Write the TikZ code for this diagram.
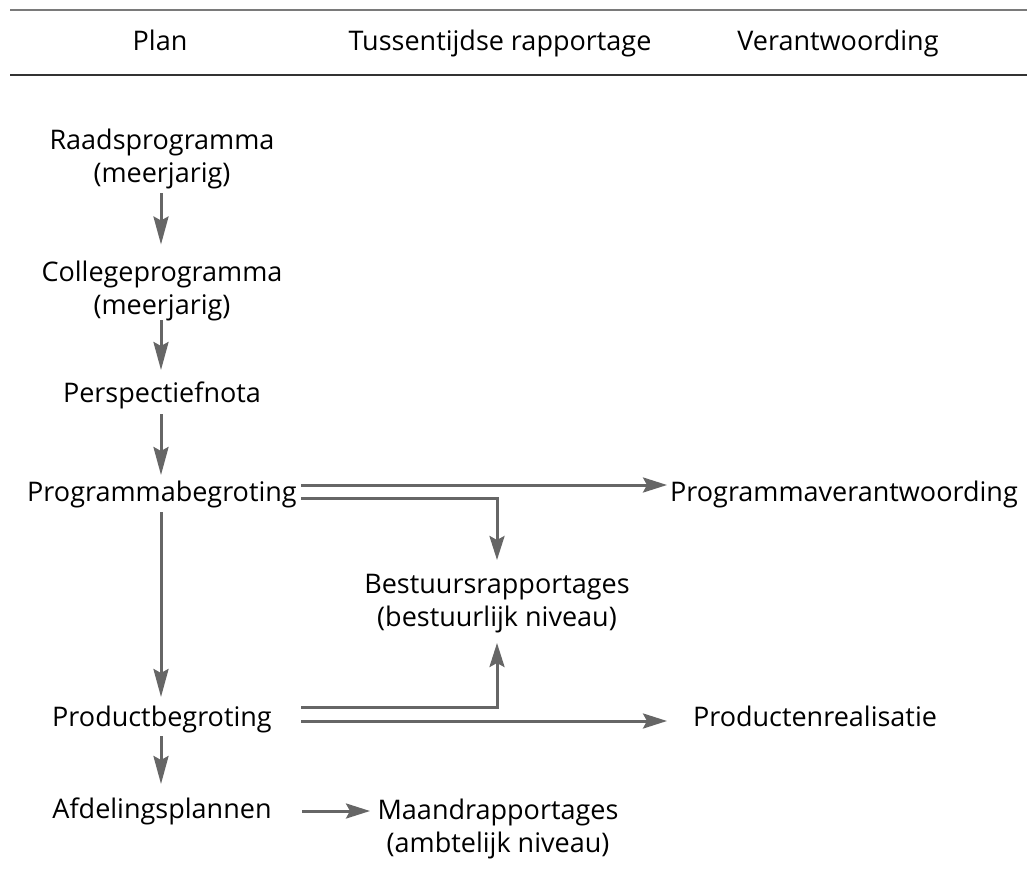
\documentclass[tikz,border=0pt]{standalone}
\usepackage{fontspec}
\setmainfont{Open Sans}[Ligatures={NoCommon}]
\usetikzlibrary{arrows.meta,calc}
\definecolor{arrgray}{HTML}{666666}
\definecolor{rulelight}{HTML}{7A7A7A}
\definecolor{ruledark}{HTML}{333333}
\newlength\refw
\begin{document}
\settowidth\refw{\normalfont\fontsize{10pt}{12pt}\selectfont Raadsprogramma}%
\pgfmathsetmacro\fs{10*225/\refw}%
\begin{tikzpicture}[x=1pt,y=-1pt]
\tikzset{
  txt/.style={font=\fontsize{\fs pt}{33pt}\selectfont, align=center, inner sep=0pt},
  one/.style={txt, text height=17pt, text depth=4pt},
  arr/.style={draw=arrgray, line width=3pt, -{Stealth[length=24pt,width=15pt,inset=4pt]}},
  varr/.style={draw=arrgray, line width=3pt, -{Stealth[length=28pt,width=15pt,inset=4pt]}},
  rulea/.style={draw=rulelight, line width=2pt},
  ruleb/.style={draw=ruledark, line width=2pt}
}
\useasboundingbox (0,0) rectangle (1027,885);
\fill[white] (0,0) rectangle (1027,885);
% rules
\coordinate (r1a) at (10,10);
\coordinate (r1b) at (1027,10);
\coordinate (r2a) at (10,75);
\coordinate (r2b) at (1027,75);
\draw[rulea] (r1a) -- (r1b);
\draw[ruleb] (r2a) -- (r2b);
% header
\node[one] (hplan) at (160,44) {Plan};
\node[one] (htus) at (500,44) {Tussentijdse rapportage};
\node[one] (hver) at (838,44) {Verantwoording};
% column 1
\node[txt] (raad) at (162,159) {Raadsprogramma\\(meerjarig)};
\node[txt] (coll) at (162,291) {Collegeprogramma\\(meerjarig)};
\node[one] (persp) at (162,396) {Perspectiefnota};
\node[one] (progbeg) at (162,495) {Programmabegroting};
\node[one] (prodbeg) at (162,720) {Productbegroting};
\node[one] (afdel) at (162,812) {Afdelingsplannen};
% column 2
\node[txt] (best) at (497,604) {Bestuursrapportages\\(bestuurlijk niveau)};
\node[txt] (maand) at (498,829) {Maandrapportages\\(ambtelijk niveau)};
% column 3
\node[one] (progver) at (844,495) {Programmaverantwoording};
\node[one] (prodreal) at (815,720) {Productenrealisatie};
% vertical arrows
\draw[varr] ($(raad.center)+(-1,34.5)$) -- ($(coll.center)+(-1,-46.5)$);
\draw[varr] ($(coll.center)+(-1,29)$) -- ($(persp.center)+(-1,-26)$);
\draw[varr] ($(persp.center)+(-1,18)$) -- ($(progbeg.center)+(-1,-20)$);
\draw[varr] ($(progbeg.center)+(-1,17)$) -- ($(prodbeg.center)+(-1,-23)$);
\draw[varr] ($(prodbeg.center)+(-1,16)$) -- ($(afdel.center)+(-1,-28)$);
% horizontal arrows
\draw[arr] ($(progbeg.center)+(139,-10)$) -- ($(progver.center)+(-177,-10)$);
\draw[arr] ($(progbeg.center)+(139,3)$) -| ($(best.center)+(0,-44)$);
\draw[arr] ($(prodbeg.center)+(139,-13)$) -| ($(best.center)+(0,39)$);
\draw[arr] ($(prodbeg.center)+(139,1)$) -- ($(prodreal.center)+(-148,1)$);
\draw[arr] ($(afdel.center)+(140,-1)$) -- ($(maand.center)+(-128,-18)$);
\end{tikzpicture}
\end{document}
